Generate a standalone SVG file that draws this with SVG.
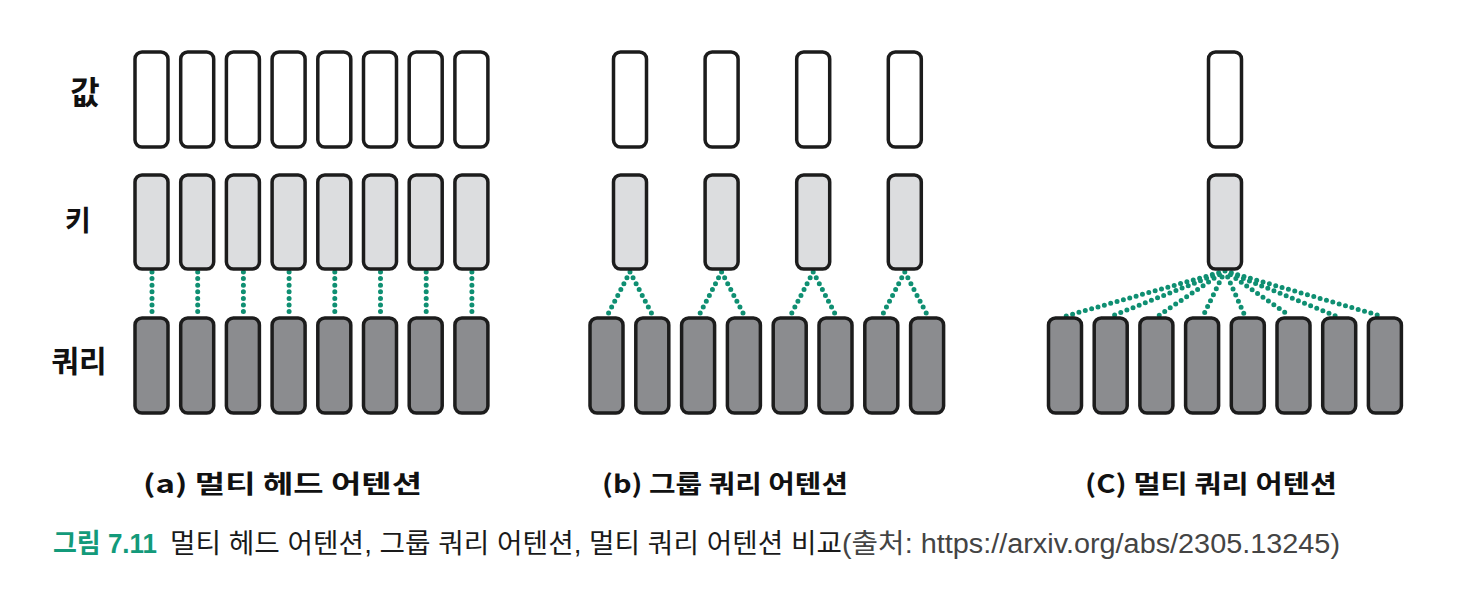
<svg xmlns="http://www.w3.org/2000/svg" width="1460" height="602" viewBox="0 0 1460 602">
<style>
.v{fill:#ffffff;stroke:#1c1c1c;stroke-width:3.5}
.k{fill:#dcdddf;stroke:#1c1c1c;stroke-width:3.5}
.q{fill:#8b8c8f;stroke:#1c1c1c;stroke-width:3.5}
.c{stroke:#0f8f72;stroke-width:5;stroke-linecap:round;stroke-dasharray:0 6.6;fill:none}
.lbl{font-family:"Noto Sans CJK KR","Noto Sans",sans-serif;font-weight:bold;fill:#111;text-anchor:middle}
.cap{font-family:"Noto Sans CJK KR","Noto Sans",sans-serif;font-weight:bold;fill:#111;font-size:25px}
.fig{font-family:"Liberation Sans","Noto Sans CJK KR",sans-serif;font-size:27px}
</style>
<rect width="1460" height="602" fill="#ffffff"/>
<g id="row-labels">
<text class="lbl" x="85" y="104" font-size="32">값</text>
<text class="lbl" x="78" y="231" font-size="28">키</text>
<text class="lbl" x="79" y="372" font-size="30">쿼리</text>
</g>
<g id="connectors">
<path class="c" d="M152,272V316M197.7,272V316M243.4,272V316M289.1,272V316M334.8,272V316M380.5,272V316M426.2,272V316M471.9,272V316"/>
<path class="c" d="M630,272L607,316M630,272L653,316M721.6,272L698.6,316M721.6,272L744.6,316M813.2,272L790.2,316M813.2,272L836.2,316M904.8,272L881.8,316M904.8,272L927.8,316"/>
<path class="c" d="M1225,271L1066,316M1225,271L1112,316M1225,271L1158,316M1225,271L1203,316M1225,271L1245,316M1225,271L1290,316M1225,271L1336,316M1225,271L1381,316"/>
</g>
<g id="a-multi-head">
<g id="a-values">
<rect class="v" x="135" y="52" width="33" height="95" rx="7"/>
<rect class="v" x="180.7" y="52" width="33" height="95" rx="7"/>
<rect class="v" x="226.4" y="52" width="33" height="95" rx="7"/>
<rect class="v" x="272.1" y="52" width="33" height="95" rx="7"/>
<rect class="v" x="317.8" y="52" width="33" height="95" rx="7"/>
<rect class="v" x="363.5" y="52" width="33" height="95" rx="7"/>
<rect class="v" x="409.2" y="52" width="33" height="95" rx="7"/>
<rect class="v" x="454.9" y="52" width="33" height="95" rx="7"/>
</g>
<g id="a-keys">
<rect class="k" x="135" y="175" width="33" height="94" rx="7"/>
<rect class="k" x="180.7" y="175" width="33" height="94" rx="7"/>
<rect class="k" x="226.4" y="175" width="33" height="94" rx="7"/>
<rect class="k" x="272.1" y="175" width="33" height="94" rx="7"/>
<rect class="k" x="317.8" y="175" width="33" height="94" rx="7"/>
<rect class="k" x="363.5" y="175" width="33" height="94" rx="7"/>
<rect class="k" x="409.2" y="175" width="33" height="94" rx="7"/>
<rect class="k" x="454.9" y="175" width="33" height="94" rx="7"/>
</g>
<g id="a-queries">
<rect class="q" x="135" y="318" width="33" height="95" rx="7"/>
<rect class="q" x="180.7" y="318" width="33" height="95" rx="7"/>
<rect class="q" x="226.4" y="318" width="33" height="95" rx="7"/>
<rect class="q" x="272.1" y="318" width="33" height="95" rx="7"/>
<rect class="q" x="317.8" y="318" width="33" height="95" rx="7"/>
<rect class="q" x="363.5" y="318" width="33" height="95" rx="7"/>
<rect class="q" x="409.2" y="318" width="33" height="95" rx="7"/>
<rect class="q" x="454.9" y="318" width="33" height="95" rx="7"/>
</g>
<text id="a-caption" class="cap" x="143" y="493" textLength="279" lengthAdjust="spacingAndGlyphs">(a) 멀티 헤드 어텐션</text>
</g>
<g id="b-grouped-query">
<g id="b-values">
<rect class="v" x="613.5" y="52" width="33" height="95" rx="7"/>
<rect class="v" x="705.1" y="52" width="33" height="95" rx="7"/>
<rect class="v" x="796.7" y="52" width="33" height="95" rx="7"/>
<rect class="v" x="888.3" y="52" width="33" height="95" rx="7"/>
</g>
<g id="b-keys">
<rect class="k" x="613.5" y="175" width="33" height="94" rx="7"/>
<rect class="k" x="705.1" y="175" width="33" height="94" rx="7"/>
<rect class="k" x="796.7" y="175" width="33" height="94" rx="7"/>
<rect class="k" x="888.3" y="175" width="33" height="94" rx="7"/>
</g>
<g id="b-queries">
<rect class="q" x="590" y="318" width="33" height="95" rx="7"/>
<rect class="q" x="635.8" y="318" width="33" height="95" rx="7"/>
<rect class="q" x="681.6" y="318" width="33" height="95" rx="7"/>
<rect class="q" x="727.4" y="318" width="33" height="95" rx="7"/>
<rect class="q" x="773.2" y="318" width="33" height="95" rx="7"/>
<rect class="q" x="819" y="318" width="33" height="95" rx="7"/>
<rect class="q" x="864.8" y="318" width="33" height="95" rx="7"/>
<rect class="q" x="910.6" y="318" width="33" height="95" rx="7"/>
</g>
<text id="b-caption" class="cap" x="602" y="493" textLength="246" lengthAdjust="spacingAndGlyphs">(b) 그룹 쿼리 어텐션</text>
</g>
<g id="c-multi-query">
<rect id="c-value" class="v" x="1208.5" y="52" width="33" height="95" rx="7"/>
<rect id="c-key" class="k" x="1208.5" y="175" width="33" height="94" rx="7"/>
<g id="c-queries">
<rect class="q" x="1048.5" y="318" width="33" height="95" rx="7"/>
<rect class="q" x="1094.2" y="318" width="33" height="95" rx="7"/>
<rect class="q" x="1139.9" y="318" width="33" height="95" rx="7"/>
<rect class="q" x="1185.6" y="318" width="33" height="95" rx="7"/>
<rect class="q" x="1231.3" y="318" width="33" height="95" rx="7"/>
<rect class="q" x="1277" y="318" width="33" height="95" rx="7"/>
<rect class="q" x="1322.7" y="318" width="33" height="95" rx="7"/>
<rect class="q" x="1368.4" y="318" width="33" height="95" rx="7"/>
</g>
<text id="c-caption" class="cap" x="1085" y="493" textLength="252" lengthAdjust="spacingAndGlyphs">(C) 멀티 쿼리 어텐션</text>
</g>
<g id="figure-caption">
<text class="fig" x="53" y="553" font-weight="bold" fill="#139a7a" textLength="104" lengthAdjust="spacingAndGlyphs">그림 7.11</text>
<text class="fig" x="170" y="553" fill="#1a1a1a" textLength="672" lengthAdjust="spacingAndGlyphs">멀티 헤드 어텐션, 그룹 쿼리 어텐션, 멀티 쿼리 어텐션 비교</text>
<text class="fig" x="842" y="553" fill="#444444" textLength="498" lengthAdjust="spacingAndGlyphs">(출처: https://arxiv.org/abs/2305.13245)</text>
</g>
</svg>
